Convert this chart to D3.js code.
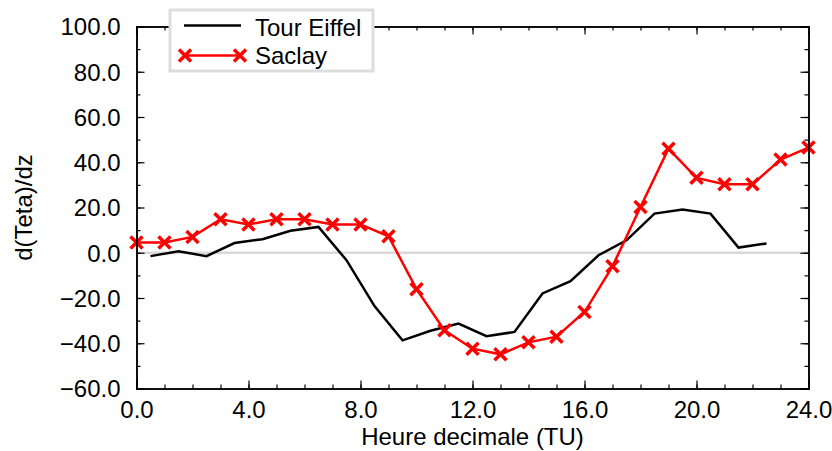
<!DOCTYPE html>
<html>
<head>
<meta charset="utf-8">
<script src="https://cdn.jsdelivr.net/npm/d3@7"></script>
<style>
  html, body { margin: 0; padding: 0; background: #fff; }
  text { font-family: "Liberation Sans", Arial, sans-serif; }
</style>
</head>
<body>
<svg id="chart" width="832" height="451"></svg>
<script>
const eiffelHours = [0.5,1.5,2.5,3.5,4.5,5.5,6.5,7.5,8.5,9.5,10.5,11.5,12.5,13.5,14.5,15.5,16.5,17.5,18.5,19.5,20.5,21.5,22.5];
const eiffelValues = [-1.5,0.7,-1.5,4.3,6.0,9.7,11.4,-3.3,-23.6,-38.7,-34.5,-31.3,-36.9,-35.0,-18.0,-12.6,-1.1,5.5,17.3,19.1,17.3,2.3,4.1];
const saclayHours = [0,1,2,3,4,5,6,7,8,9,10,11,12,13,14,15,16,17,18,19,20,21,22,23,24];
const saclayValues = [4.5,4.5,7.0,14.8,12.5,14.8,14.8,12.5,12.5,7.3,-16.1,-34.3,-42.4,-44.9,-39.6,-37.1,-26.2,-6.0,20.2,46.0,33.1,30.3,30.3,41.2,46.5];
const xTickValues = [0,4,8,12,16,20,24];
const yTickValues = [-60,-40,-20,0,20,40,60,80,100];
const seriesNames = ["Tour Eiffel", "Saclay"];
const xTitle = "Heure decimale (TU)";
const yTitle = "d(Teta)/dz";

const svg = d3.select("#chart");
const mLeft = 136.5, mRight = 808.5, mTop = 26.5, mBottom = 388.5;
const x = d3.scaleLinear().domain([0, 24]).range([mLeft, mRight]);
const y = d3.scaleLinear().domain([-60, 100]).range([mBottom, mTop]);
const fontSize = 24;

// zero line
svg.append("line")
  .attr("x1", x(0)).attr("x2", x(24)).attr("y1", y(0)).attr("y2", y(0))
  .attr("stroke", "#d9d9d9").attr("stroke-width", 2.5);

// series
const eiffel = eiffelHours.map((h, i) => [h, eiffelValues[i]]);
const saclay = saclayHours.map((h, i) => [h, saclayValues[i]]);
const line = d3.line().x(d => x(d[0])).y(d => y(d[1]));

svg.append("path").datum(eiffel).attr("d", line)
  .attr("fill", "none").attr("stroke", "#000").attr("stroke-width", 2.5);
svg.append("path").datum(saclay).attr("d", line)
  .attr("fill", "none").attr("stroke", "#ff0000").attr("stroke-width", 2.5);

function cross(g, cx, cy, s) {
  g.append("path")
    .attr("d", `M${cx - s},${cy - s}L${cx + s},${cy + s}M${cx - s},${cy + s}L${cx + s},${cy - s}`)
    .attr("stroke", "#ff0000").attr("stroke-width", 3.5).attr("fill", "none");
}
const markers = svg.append("g");
saclay.forEach(d => cross(markers, x(d[0]), y(d[1]), 6));

// axes (ticks inward)
const axisG = svg.append("g");
const xMinor = d3.range(0, 25, 1);
const yMinor = d3.range(-60, 101, 10);
const bottomAxis = d3.axisBottom(x).tickValues(xMinor).tickSize(-4).tickFormat("");
const bottomMajor = d3.axisBottom(x).tickValues(xTickValues).tickSize(-8).tickFormat(d3.format(".1f"));
const topAxis = d3.axisTop(x).tickValues(xMinor).tickSize(-4).tickFormat("");
const topMajor = d3.axisTop(x).tickValues(xTickValues).tickSize(-8).tickFormat("");
const leftAxis = d3.axisLeft(y).tickValues(yMinor).tickSize(-4).tickFormat("");
const leftMajor = d3.axisLeft(y).tickValues(yTickValues).tickSize(-8).tickFormat(d => d3.format(".1f")(d).replace("-", "\u2212"));
const rightAxis = d3.axisRight(y).tickValues(yMinor).tickSize(-4).tickFormat("");
const rightMajor = d3.axisRight(y).tickValues(yTickValues).tickSize(-8).tickFormat("");

function style(g) {
  g.select(".domain").attr("stroke", "#000").attr("stroke-width", 1.5);
  g.selectAll(".tick line").attr("stroke", "#000").attr("stroke-width", 1.2);
  g.selectAll(".tick text").attr("font-size", fontSize).attr("fill", "#000")
    .attr("font-family", "'Liberation Sans', Arial, sans-serif");
}
axisG.append("g").attr("transform", `translate(0,${mBottom})`).call(bottomAxis).call(style);
const bm = axisG.append("g").attr("transform", `translate(0,${mBottom})`).call(bottomMajor).call(style);
bm.selectAll(".tick text").attr("y", 12).attr("dy", "0.71em");
axisG.append("g").attr("transform", `translate(0,${mTop})`).call(topAxis).call(style);
axisG.append("g").attr("transform", `translate(0,${mTop})`).call(topMajor).call(style);
axisG.append("g").attr("transform", `translate(${mLeft},0)`).call(leftAxis).call(style);
const lm = axisG.append("g").attr("transform", `translate(${mLeft},0)`).call(leftMajor).call(style);
lm.selectAll(".tick text").attr("x", -16).attr("dy", "0.35em");
axisG.append("g").attr("transform", `translate(${mRight},0)`).call(rightAxis).call(style);
axisG.append("g").attr("transform", `translate(${mRight},0)`).call(rightMajor).call(style);

// titles
svg.append("text").attr("x", (mLeft + mRight) / 2).attr("y", 445)
  .attr("text-anchor", "middle").attr("font-size", fontSize).attr("fill", "#000").text(xTitle);
svg.append("text").attr("transform", `translate(32,${(mTop + mBottom) / 2}) rotate(-90)`)
  .attr("text-anchor", "middle").attr("font-size", fontSize).attr("fill", "#000").text(yTitle);

// legend
const lg = svg.append("g");
lg.append("rect").attr("x", 170).attr("y", 10).attr("width", 203).attr("height", 61)
  .attr("fill", "#fff").attr("stroke", "#dddddd").attr("stroke-width", 3);
lg.append("line").attr("x1", 184).attr("x2", 241).attr("y1", 25.5).attr("y2", 25.5)
  .attr("stroke", "#000").attr("stroke-width", 2.5);
lg.append("text").attr("x", 255).attr("y", 35.5).attr("font-size", fontSize).attr("fill", "#000").text(seriesNames[0]);
lg.append("line").attr("x1", 185).attr("x2", 240).attr("y1", 55.5).attr("y2", 55.5)
  .attr("stroke", "#ff0000").attr("stroke-width", 2.5);
cross(lg, 185, 55.5, 6);
cross(lg, 240, 55.5, 6);
lg.append("text").attr("x", 255).attr("y", 64).attr("font-size", fontSize).attr("fill", "#000").text(seriesNames[1]);
</script>
</body>
</html>
